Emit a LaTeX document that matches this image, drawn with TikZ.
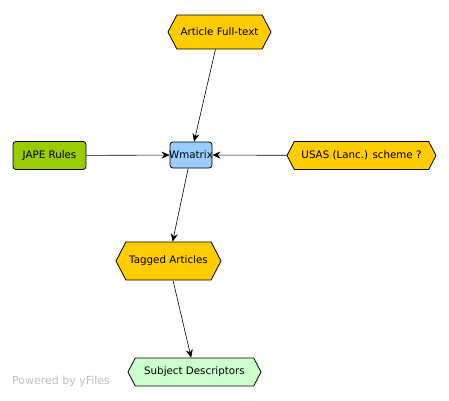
\documentclass[tikz,border=0pt]{standalone}
\usepackage{fontspec}
\setmainfont{DejaVu Sans}
\usetikzlibrary{shapes.symbols,shapes.misc,arrows.meta}
\definecolor{gold}{HTML}{FFCC00}
\definecolor{jgreen}{HTML}{99CC00}
\definecolor{lblue}{HTML}{99CCFF}
\definecolor{lgreen}{HTML}{CCFFCC}
\tikzset{
  hexbox/.style={signal, signal to=west and east, signal pointer angle=125,
    draw=black, line width=0.8pt, font=\fontsize{10.3}{12}\selectfont, inner sep=0pt},
  rbox/.style={rectangle, rounded corners=3pt, draw=black, line width=0.8pt,
    font=\fontsize{10.3}{12}\selectfont, inner sep=0pt},
  conn/.style={draw=black, line width=0.6pt, -{Stealth[length=8pt,width=7pt]}}
}
\begin{document}
\begin{tikzpicture}[x=1pt,y=-1pt]
\useasboundingbox[fill=white] (0,0) rectangle (449,400);
\node[hexbox, fill=gold, minimum width=103pt, minimum height=34pt] (art) at (219.5,32) {Article Full-text};
\node[rbox, fill=jgreen, minimum width=73pt, minimum height=28pt] (jape) at (49.5,155.5) {JAPE Rules};
\node[rbox, fill=lblue, minimum width=42pt, minimum height=26pt] (wm) at (191,155) {\makebox[38pt]{Wmatrix}};
\node[hexbox, fill=gold, minimum width=149pt, minimum height=28pt] (usas) at (361.5,155.5) {USAS (Lanc.) scheme ?};
\node[hexbox, fill=gold, minimum width=105pt, minimum height=38pt] (tag) at (168.5,261) {Tagged Articles};
\node[hexbox, fill=lgreen, minimum width=133pt, minimum height=28pt] (subj) at (194.5,372) {Subject Descriptors};
\node[text=black!25, font=\fontsize{11}{13}\selectfont] (pw) at (61,381) {Powered by yFiles};
\draw[conn] (art) -- (wm);
\draw[conn] (jape) -- (wm);
\draw[conn] (usas) -- (wm);
\draw[conn] (wm) -- (tag);
\draw[conn] (tag) -- (subj);
\end{tikzpicture}
\end{document}
